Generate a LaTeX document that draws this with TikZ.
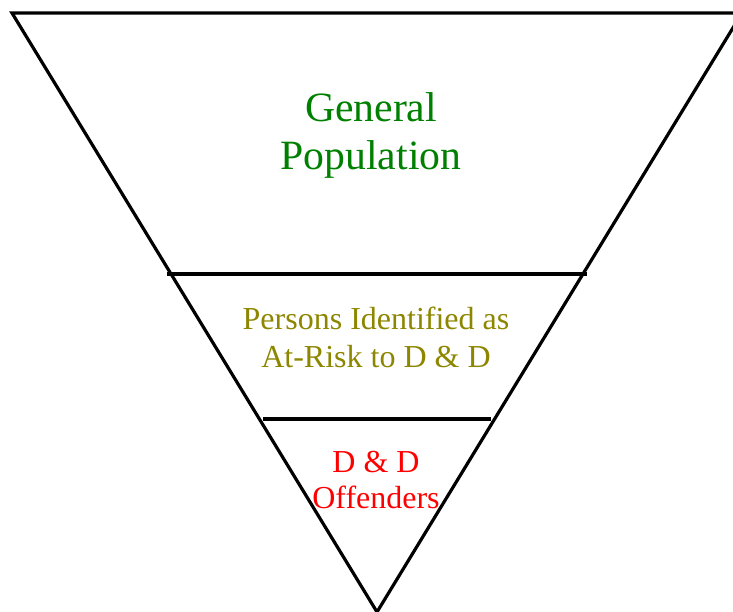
\documentclass[tikz,border=0pt]{standalone}
\usepackage{xcolor}
\usepackage{fontspec}
\setmainfont{Liberation Serif}
\usetikzlibrary{calc}
\usetikzlibrary{positioning}

\begin{document}
\begin{tikzpicture}[x=1pt,y=-1pt,
      funnel style/.style={draw=black,line width=3.2pt},
      top style/.style={text=green!50!black,align=center,inner sep=0pt,
        font=\fontsize{41.7}{48}\selectfont},
      mid style/.style={text=olive,align=center,inner sep=0pt,
        font=\fontsize{32}{38}\selectfont},
      low style/.style={text=red,align=center,inner sep=0pt,
        font=\fontsize{32}{36}\selectfont}
      ]
      \useasboundingbox (0,0) rectangle (733,611);
      \clip (0,0) rectangle (733,611);

      % funnel outline
      \coordinate (topleft) at (12,13);
      \coordinate (topright) at (742,13);
      \coordinate (apex) at (377,612);
      \draw[funnel style,line join=miter] (topleft) -- (topright) -- (apex) -- cycle;

      % dividing lines
      \coordinate (cutAl) at (167,274);
      \coordinate (cutAr) at (587,274);
      \coordinate (cutBl) at (263,419);
      \coordinate (cutBr) at (491,419);
      \draw[funnel style] (cutAl) -- (cutAr);
      \draw[funnel style] (cutBl) -- (cutBr);

      \node[top style] (general) at (371,135) {General\\Population};
      \node[mid style] (atrisk) at (376,337) {Persons Identified as\\At-Risk to D \& D};
      \node[low style] (offenders) at (376,480) {D \& D\\Offenders};

    \end{tikzpicture}
\end{document}
